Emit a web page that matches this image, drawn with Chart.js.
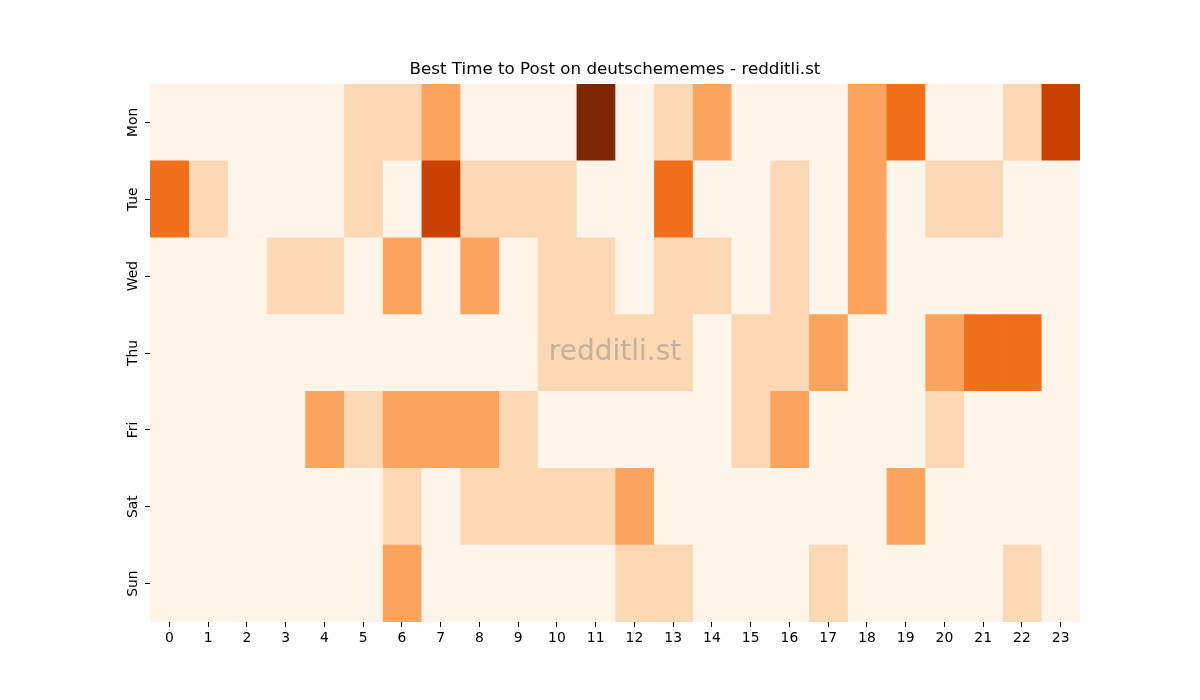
<!DOCTYPE html>
<html>
<head>
<meta charset="utf-8">
<script src="https://cdn.jsdelivr.net/npm/chart.js@4"></script>
<style>
html,body{margin:0;padding:0;background:#fff;}
#wrap{width:1200px;height:700px;position:relative;}
</style>
</head>
<body>
<div id="wrap"><canvas id="c" width="1200" height="700"></canvas></div>
<script>
const days = ["Mon","Tue","Wed","Thu","Fri","Sat","Sun"];
const hours = ["0","1","2","3","4","5","6","7","8","9","10","11","12","13","14","15","16","17","18","19","20","21","22","23"];
const titleText = "Best Time to Post on deutschememes - redditli.st";
const watermark = "redditli.st";

const mon = [0,0,0,0,0,1,1,2,0,0,0,5,0,1,2,0,0,0,2,3,0,0,1,4];
const tue = [3,1,0,0,0,1,0,4,1,1,1,0,0,3,0,0,1,0,2,0,1,1,0,0];
const wed = [0,0,0,1,1,0,2,0,2,0,1,1,0,1,1,0,1,0,2,0,0,0,0,0];
const thu = [0,0,0,0,0,0,0,0,0,0,1,1,1,1,0,1,1,2,0,0,2,3,3,0];
const fri = [0,0,0,0,2,1,2,2,2,1,0,0,0,0,0,1,2,0,0,0,1,0,0,0];
const sat = [0,0,0,0,0,0,1,0,1,1,1,1,2,0,0,0,0,0,0,2,0,0,0,0];
const sun = [0,0,0,0,0,0,2,0,0,0,0,0,1,1,0,0,0,1,0,0,0,0,1,0];
const grid = [mon,tue,wed,thu,fri,sat,sun];

const palette = ["#fff5eb","#fdd8b4","#fda55f","#f26f1b","#c94101","#7f2704"];

const datasets = hours.map((h, hi) => ({
  label: h,
  data: grid.map(row => [hi, hi + 1]),
  backgroundColor: grid.map(row => palette[row[hi]]),
  borderWidth: 0,
  borderSkipped: false,
  categoryPercentage: 1.0,
  barPercentage: 1.0,
  grouped: false
}));

const overlay = {
  id: 'overlay',
  afterDraw(chart) {
    const ctx = chart.ctx;
    const ys = chart.scales.y;
    const ca = chart.chartArea;
    ctx.save();
    ctx.fillStyle = '#000';
    ctx.font = '13.9px "DejaVu Sans"';
    ctx.textAlign = 'center';
    ctx.textBaseline = 'middle';
    days.forEach((d, i) => {
      const y = ys.getPixelForValue(i);
      ctx.save();
      ctx.translate(ca.left - 17, y);
      ctx.rotate(-Math.PI / 2);
      ctx.fillText(d, 0, 0);
      ctx.restore();
    });
    ctx.font = '16.7px "DejaVu Sans"';
    ctx.fillStyle = '#000';
    ctx.fillText(titleText, (ca.left + ca.right) / 2, ca.top - 14);
    ctx.font = '28px "DejaVu Sans"';
    ctx.fillStyle = 'rgba(128,128,128,0.45)';
    ctx.fillText(watermark, (ca.left + ca.right) / 2, (ca.top + ca.bottom) / 2);
    ctx.restore();
  }
};

new Chart(document.getElementById('c'), {
  type: 'bar',
  data: { labels: days, datasets },
  options: {
    indexAxis: 'y',
    responsive: false,
    animation: false,
    layout: { padding: { left: 0, right: 120, top: 84, bottom: 0 } },
    plugins: {
      legend: { display: false },
      tooltip: { enabled: false },
      title: { display: false }
    },
    scales: {
      x: {
        type: 'linear',
        min: 0,
        max: 24,
        border: { display: false },
        grid: { drawOnChartArea: false, tickLength: 5, tickColor: '#000', lineWidth: 1 },
        afterBuildTicks(scale) {
          scale.ticks = hours.map((h, i) => ({ value: i + 0.5 }));
        },
        afterFit(scale) { scale.height = 78; },
        ticks: {
          autoSkip: false,
          maxRotation: 0,
          minRotation: 0,
          color: '#000',
          padding: 3,
          font: { family: '"DejaVu Sans"', size: 13.9 },
          callback(value) { return hours[Math.round(value - 0.5)]; }
        }
      },
      y: {
        type: 'category',
        offset: true,
        border: { display: false },
        grid: { drawOnChartArea: false, tickLength: 5, tickColor: '#000', offset: false },
        afterFit(scale) { scale.width = 150; },
        ticks: { display: false }
      }
    }
  },
  plugins: [overlay]
});
</script>
</body>
</html>
